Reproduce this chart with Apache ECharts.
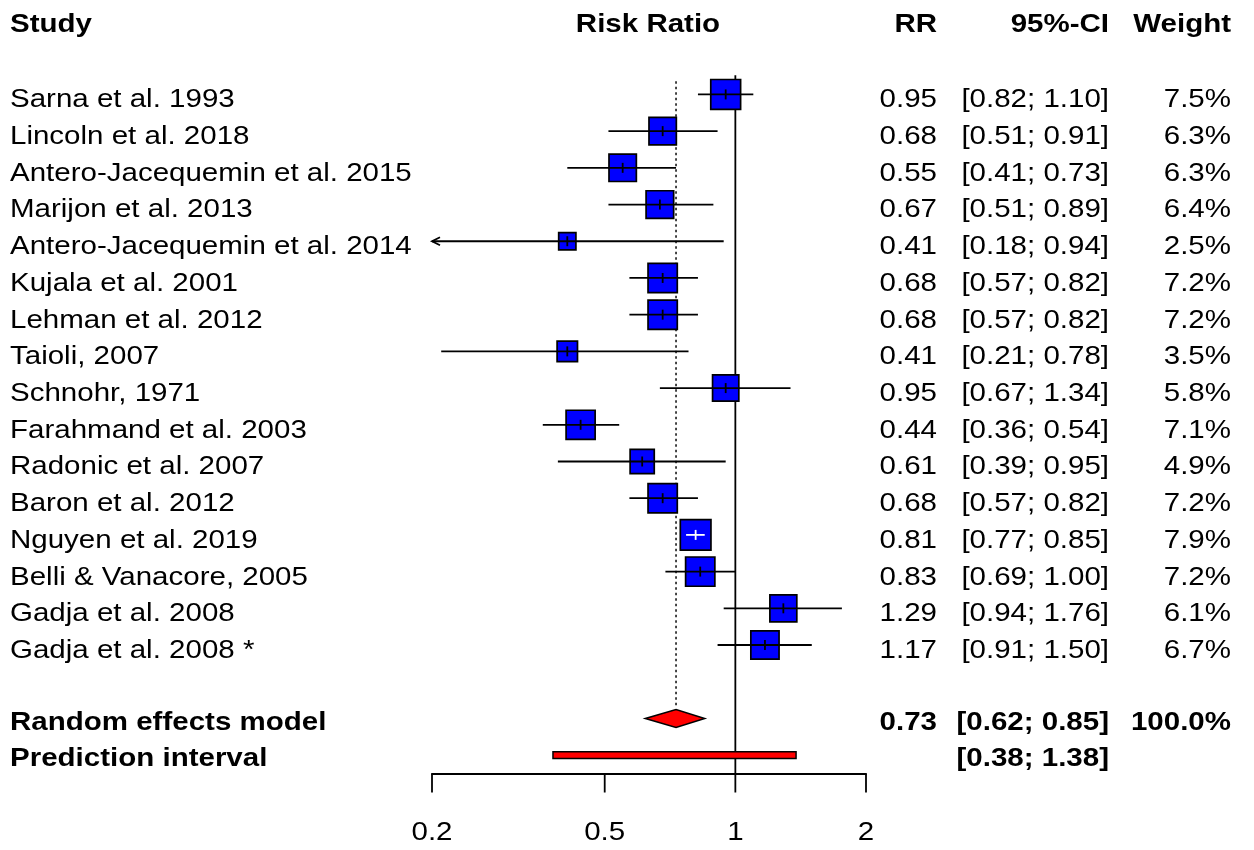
<!DOCTYPE html>
<html>
<head>
<meta charset="utf-8">
<title>Risk Ratio - forest plot</title>
<script src="https://cdn.jsdelivr.net/npm/echarts@6/dist/echarts.min.js"></script>
<style>
  html, body { margin: 0; padding: 0; background: #fff; }
  #chart { width: 1254px; height: 850px; }
</style>
</head>
<body>
<div id="chart"></div>
<script>
// data
const studies = [
  "Sarna et al. 1993", "Lincoln et al. 2018", "Antero-Jacequemin et al. 2015",
  "Marijon et al. 2013", "Antero-Jacequemin et al. 2014", "Kujala et al. 2001",
  "Lehman et al. 2012", "Taioli, 2007", "Schnohr, 1971", "Farahmand et al. 2003",
  "Radonic et al. 2007", "Baron et al. 2012", "Nguyen et al. 2019",
  "Belli & Vanacore, 2005", "Gadja et al. 2008", "Gadja et al. 2008 *"
];
const rr      = [0.95, 0.68, 0.55, 0.67, 0.41, 0.68, 0.68, 0.41, 0.95, 0.44, 0.61, 0.68, 0.81, 0.83, 1.29, 1.17];
const ciLow   = [0.82, 0.51, 0.41, 0.51, 0.18, 0.57, 0.57, 0.21, 0.67, 0.36, 0.39, 0.57, 0.77, 0.69, 0.94, 0.91];
const ciHigh  = [1.10, 0.91, 0.73, 0.89, 0.94, 0.82, 0.82, 0.78, 1.34, 0.54, 0.95, 0.82, 0.85, 1.00, 1.76, 1.50];
const weights = [7.5, 6.3, 6.3, 6.4, 2.5, 7.2, 7.2, 3.5, 5.8, 7.1, 4.9, 7.2, 7.9, 7.2, 6.1, 6.7];

const pooled = [0.73, 0.62, 0.85];      // random effects: RR, lower, upper
const pooledWeight = 100.0;
const predInterval = [0.38, 1.38];
const tickValues = [0.2, 0.5, 1, 2];
const headers = ["Study", "RR", "95%-CI", "Weight"];
const axisTitle = "Risk Ratio";

const X_MIN = 0.2, X_MAX = 2;
const Y_MIN = -2, Y_MAX = 18.5;
const BOX_K = 10.9;       // box side = BOX_K * sqrt(weight)
const FONT = "'Liberation Sans', Arial, sans-serif";
const FS = 25;
const SX = 1.18;          // text in the original is a bit stretched
const LW = 1.8;
const colRight = [null, 937, 1109, 1231];

function txt(x, y, text, align, bold) {
  return {
    type: 'text', x: x, y: y, scaleX: SX,
    style: {
      text: text, fill: '#000', fontSize: FS, fontFamily: FONT,
      fontWeight: bold ? 'bold' : 'normal', align: align, verticalAlign: 'middle'
    }
  };
}

// rows of the table on both sides
const tableRows = [];
tableRows.push({ row: -2, cells: headers, bold: true, dy: 4 });
studies.forEach(function (s, i) {
  tableRows.push({
    row: i, bold: false, dy: 6,
    cells: [s, rr[i].toFixed(2), '[' + ciLow[i].toFixed(2) + '; ' + ciHigh[i].toFixed(2) + ']', weights[i].toFixed(1) + '%']
  });
});
tableRows.push({
  row: 17, bold: true, dy: 5,
  cells: ['Random effects model', pooled[0].toFixed(2), '[' + pooled[1].toFixed(2) + '; ' + pooled[2].toFixed(2) + ']', pooledWeight.toFixed(1) + '%']
});
tableRows.push({
  row: 18, bold: true, dy: 4,
  cells: ['Prediction interval', '', '[' + predInterval[0].toFixed(2) + '; ' + predInterval[1].toFixed(2) + ']', '']
});

function renderStudy(params, api) {
  const row = api.value(1);
  const est = api.coord([api.value(0), row]);
  const lo = api.value(2), hi = api.value(3);
  const pLo = api.coord([Math.max(lo, X_MIN), row]);
  const pHi = api.coord([Math.min(hi, X_MAX), row]);
  const s = BOX_K * Math.sqrt(api.value(4));
  const inside = pLo[0] >= est[0] - s / 2 && pHi[0] <= est[0] + s / 2;
  const ink = inside ? '#fff' : '#000';
  const kids = [
    { type: 'rect', shape: { x: est[0] - s / 2, y: est[1] - s / 2, width: s, height: s },
      style: { fill: '#0000ff', stroke: '#000', lineWidth: 1.7 } },
    { type: 'line', shape: { x1: pLo[0], y1: est[1], x2: pHi[0], y2: est[1] },
      style: { stroke: ink, lineWidth: LW } },
    { type: 'line', shape: { x1: est[0], y1: est[1] - 5, x2: est[0], y2: est[1] + 5 },
      style: { stroke: ink, lineWidth: LW } }
  ];
  if (lo < X_MIN) {
    // CI runs off the left edge -> arrow
    kids.push({ type: 'polyline',
      shape: { points: [[pLo[0] + 8, est[1] - 4], [pLo[0], est[1]], [pLo[0] + 8, est[1] + 4]] },
      style: { stroke: '#000', fill: null, lineWidth: LW } });
  }
  return { type: 'group', children: kids };
}

const chart = echarts.init(document.getElementById('chart'));

const option = {
  animation: false,
  backgroundColor: '#fff',
  grid: { left: 432, right: 388, top: 21, height: 752.5 },
  xAxis: {
    type: 'log', logBase: 10, min: X_MIN, max: X_MAX,
    axisLine: { show: true, onZero: false, lineStyle: { color: '#000', width: LW } },
    axisTick: { show: false }, axisLabel: { show: false }, splitLine: { show: false }
  },
  yAxis: {
    type: 'value', inverse: true, min: Y_MIN, max: Y_MAX, show: false
  },
  series: [
    {
      // reference lines: no effect (solid) and pooled estimate (dotted)
      type: 'custom', silent: true, z: 1,
      data: [[1, 0], [pooled[0], 1]],
      renderItem: function (params, api) {
        const dotted = api.value(1) === 1;
        const top = api.coord([api.value(0), dotted ? -0.36 : -0.52]);
        const bot = api.coord([api.value(0), dotted ? 16.72 : Y_MAX]);
        return { type: 'line', shape: { x1: top[0], y1: top[1], x2: bot[0], y2: bot[1] },
          style: { stroke: dotted ? '#333' : '#000', lineWidth: LW, lineDash: dotted ? [2.5, 3] : null } };
      }
    },
    {
      type: 'custom', silent: true, z: 2,
      data: studies.map(function (s, i) { return [rr[i], i, ciLow[i], ciHigh[i], weights[i]]; }),
      renderItem: renderStudy
    },
    {
      // pooled diamond
      type: 'custom', silent: true, z: 3,
      data: [[pooled[0], 17, pooled[1], pooled[2]]],
      renderItem: function (params, api) {
        const row = api.value(1);
        const c = api.coord([api.value(0), row]);
        const l = api.coord([api.value(2), row]);
        const r = api.coord([api.value(3), row]);
        const h = 9;
        return { type: 'polygon',
          shape: { points: [[l[0], c[1]], [c[0], c[1] - h], [r[0], c[1]], [c[0], c[1] + h]] },
          style: { fill: '#ff0000', stroke: '#000', lineWidth: 1.5 } };
      }
    },
    {
      // prediction interval bar
      type: 'custom', silent: true, z: 3,
      data: [[predInterval[0], 18, predInterval[1]]],
      renderItem: function (params, api) {
        const row = api.value(1);
        const l = api.coord([api.value(0), row]);
        const r = api.coord([api.value(2), row]);
        return { type: 'rect', shape: { x: l[0], y: l[1] - 3.3, width: r[0] - l[0], height: 6.6 },
          style: { fill: '#ff0000', stroke: '#000', lineWidth: 1.5 } };
      }
    },
    {
      // x axis ticks and labels
      type: 'custom', silent: true, z: 3,
      data: tickValues.map(function (v) { return [v, Y_MAX]; }),
      renderItem: function (params, api) {
        const p = api.coord([api.value(0), api.value(1)]);
        return { type: 'group', children: [
          { type: 'line', shape: { x1: p[0], y1: p[1], x2: p[0], y2: p[1] + 19 },
            style: { stroke: '#000', lineWidth: LW } },
          txt(p[0], p[1] + 60, String(tickValues[params.dataIndex]), 'center', false)
        ] };
      }
    },
    {
      // text columns
      type: 'custom', silent: true, z: 4,
      data: tableRows.map(function (r) { return [1, r.row]; }),
      renderItem: function (params, api) {
        const tr = tableRows[params.dataIndex];
        const y = api.coord([1, tr.row])[1] + tr.dy;
        const kids = [txt(10, y, tr.cells[0], 'left', tr.bold)];
        for (let k = 1; k < 4; k++) {
          if (tr.cells[k]) kids.push(txt(colRight[k], y, tr.cells[k], 'right', tr.bold));
        }
        if (tr.row === -2) kids.push(txt(648, y, axisTitle, 'center', true));
        return { type: 'group', children: kids };
      }
    }
  ]
};

chart.setOption(option);
</script>
</body>
</html>
